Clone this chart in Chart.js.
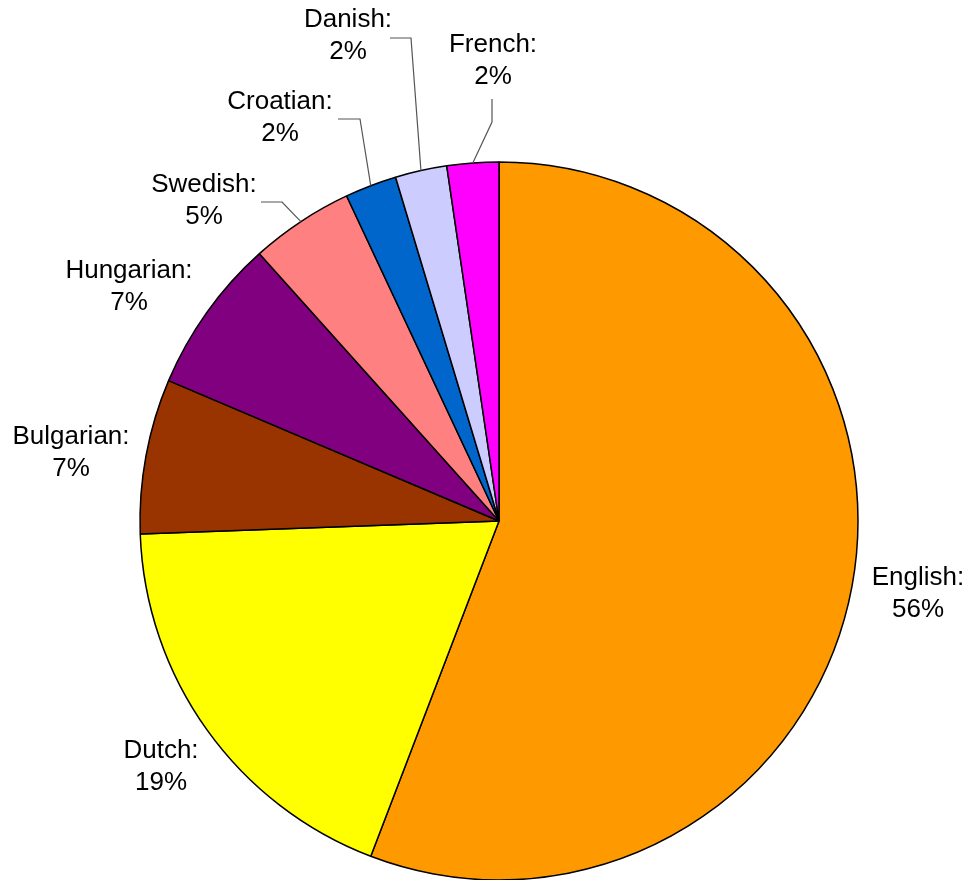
<!DOCTYPE html>
<html>
<head>
<meta charset="utf-8">
<script src="https://cdn.jsdelivr.net/npm/chart.js@4/dist/chart.umd.min.js"></script>
<style>
  body { margin: 0; background: #fff; }
  #wrap { width: 970px; height: 880px; }
</style>
</head>
<body>
<div id="wrap"><canvas id="langChart" width="970" height="880"></canvas></div>
<script>
const languages = ['English', 'Dutch', 'Bulgarian', 'Hungarian', 'Swedish', 'Croatian', 'Danish', 'French'];
const counts = [24, 8, 3, 3, 2, 1, 1, 1];
const sliceColors = ['#FF9900', '#FFFF00', '#993300', '#800080', '#FF8080', '#0066CC', '#CCCCFF', '#FF00FF'];

// label text centres, and leader elbows for the small slices
const labelLayout = [
  { x: 918, y: 594 },
  { x: 161, y: 767 },
  { x: 71, y: 453 },
  { x: 129, y: 287 },
  { x: 204, y: 201, leader: [[261, 202], [282, 202]] },
  { x: 280, y: 118, leader: [[338, 119], [360, 119]] },
  { x: 348, y: 36, leader: [[390, 38], [411, 38]] },
  { x: 493, y: 61, leader: [[492, 99], [492, 122]] }
];

const pieLabels = {
  id: 'pieLabels',
  afterDatasetsDraw(chart) {
    const c = chart.ctx;
    const meta = chart.getDatasetMeta(0);
    const values = chart.data.datasets[0].data;
    const total = values.reduce((a, b) => a + b, 0);
    c.save();
    meta.data.forEach((arc, i) => {
      const lay = labelLayout[i];
      const mid = (arc.startAngle + arc.endAngle) / 2;
      if (lay.leader) {
        const ax = arc.x + Math.cos(mid) * arc.outerRadius;
        const ay = arc.y + Math.sin(mid) * arc.outerRadius;
        c.strokeStyle = '#555';
        c.lineWidth = 1.2;
        c.beginPath();
        c.moveTo(lay.leader[0][0], lay.leader[0][1]);
        c.lineTo(lay.leader[1][0], lay.leader[1][1]);
        c.lineTo(ax, ay);
        c.stroke();
      }
      const pct = Math.round(values[i] / total * 100) + '%';
      c.fillStyle = '#000';
      c.font = '26px "Liberation Sans", Arial, sans-serif';
      c.textAlign = 'center';
      c.textBaseline = 'middle';
      c.fillText(chart.data.labels[i] + ':', lay.x, lay.y - 16);
      c.fillText(pct, lay.x, lay.y + 16);
    });
    c.restore();
  }
};

new Chart(document.getElementById('langChart'), {
  type: 'pie',
  data: {
    labels: languages,
    datasets: [{
      data: counts,
      backgroundColor: sliceColors,
      borderColor: '#000',
      borderWidth: 1.5,
      radius: 359
    }]
  },
  options: {
    responsive: false,
    animation: false,
    layout: { padding: { left: 140, right: 112, top: 162, bottom: 0 } },
    plugins: {
      legend: { display: false },
      tooltip: { enabled: false }
    }
  },
  plugins: [pieLabels]
});
</script>
</body>
</html>
